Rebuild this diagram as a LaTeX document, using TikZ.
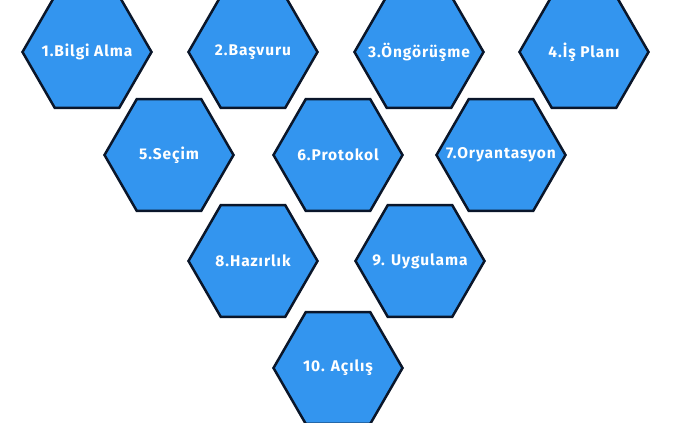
\documentclass[tikz,border=0pt]{standalone}
\usepackage{fontspec}
\setmainfont{Fira Sans}
\usetikzlibrary{shapes.geometric}

\definecolor{hexblue}{RGB}{51,149,239}
\definecolor{hexline}{RGB}{10,22,42}

\tikzset{
  hexa/.style = {regular polygon, regular polygon sides=6,
    minimum size=129pt, inner sep=0pt, fill=hexblue, draw=hexline, line width=2.5pt},
  hextext/.style = {text=white, font=\fontsize{15.5}{17}\selectfont\bfseries\addfontfeatures{LetterSpace=6}}
}

\begin{document}
\begin{tikzpicture}[x = 1pt, y = -1pt]
\useasboundingbox (0,0) rectangle (675,423);
\node[hexa] (h1) at (87,52) {};
\node[hexa] (h2) at (253,52) {};
\node[hexa] (h3) at (419,52) {};
\node[hexa] (h4) at (584,52) {};
\node[hexa] (h5) at (169,155) {};
\node[hexa] (h6) at (338,155) {};
\node[hexa] (h7) at (501,155) {};
\node[hexa] (h8) at (253,261) {};
\node[hexa] (h9) at (420,261) {};
\node[hexa] (h10) at (338,368) {};
\node[hextext] (t1) at (h1) {1.Bilgi Alma};
\node[hextext] (t2) at (h2) {2.Başvuru};
\node[hextext] (t3) at (h3) {3.Öngörüşme};
\node[hextext] (t4) at (h4) {4.İş Planı};
\node[hextext] (t5) at (h5) {5.Seçim};
\node[hextext] (t6) at (h6) {6.Protokol};
\node[hextext] (t7) at (h7) {7.Oryantasyon};
\node[hextext] (t8) at (h8) {8.Hazırlık};
\node[hextext] (t9) at (h9) {9. Uygulama};
\node[hextext] (t10) at (h10) {10. Açılış};
\end{tikzpicture}
\end{document}
